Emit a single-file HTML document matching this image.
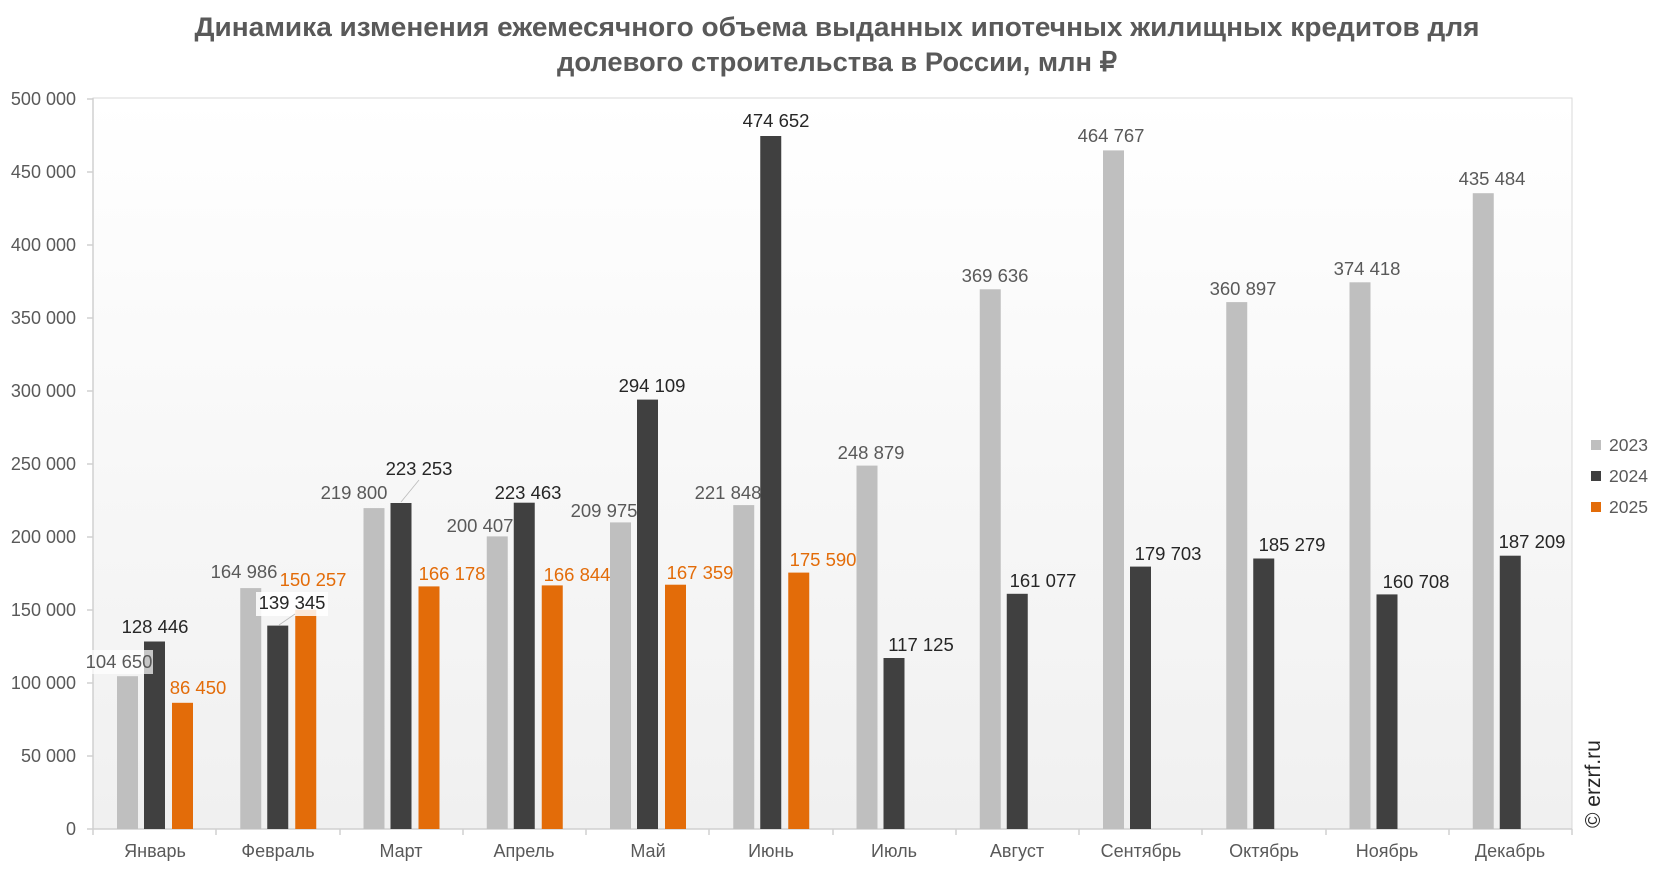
<!DOCTYPE html>
<html><head><meta charset="utf-8"><style>
html,body{margin:0;padding:0;background:#fff;}
svg{display:block;font-family:"Liberation Sans",sans-serif;}
</style></head><body>
<svg width="1666" height="872" viewBox="0 0 1666 872" xmlns="http://www.w3.org/2000/svg">
<defs><linearGradient id="bg" x1="0" y1="0" x2="0" y2="1"><stop offset="0" stop-color="#ffffff"/><stop offset="1" stop-color="#f0f0f0"/></linearGradient></defs>
<text x="837" y="36" font-size="27" font-weight="bold" fill="#595959" text-anchor="middle" textLength="1285" lengthAdjust="spacingAndGlyphs">Динамика изменения ежемесячного объема выданных ипотечных жилищных кредитов для</text>
<text x="837" y="71" font-size="27" font-weight="bold" fill="#595959" text-anchor="middle" textLength="560" lengthAdjust="spacingAndGlyphs">долевого строительства в России, млн ₽</text>
<rect x="93" y="98" width="1479" height="731" fill="url(#bg)" stroke="#d9d9d9" stroke-width="1"/>
<g stroke="#d0d0d0" stroke-width="1.5">
<line x1="93" y1="98" x2="93" y2="829"/>
<line x1="93" y1="829" x2="1572" y2="829"/>
<line x1="87" y1="829" x2="93" y2="829"/><line x1="87" y1="756" x2="93" y2="756"/><line x1="87" y1="683" x2="93" y2="683"/><line x1="87" y1="610" x2="93" y2="610"/><line x1="87" y1="537" x2="93" y2="537"/><line x1="87" y1="464" x2="93" y2="464"/><line x1="87" y1="391" x2="93" y2="391"/><line x1="87" y1="318" x2="93" y2="318"/><line x1="87" y1="245" x2="93" y2="245"/><line x1="87" y1="172" x2="93" y2="172"/><line x1="87" y1="99" x2="93" y2="99"/>
<line x1="93" y1="829" x2="93" y2="835"/><line x1="216" y1="829" x2="216" y2="835"/><line x1="340" y1="829" x2="340" y2="835"/><line x1="463" y1="829" x2="463" y2="835"/><line x1="586" y1="829" x2="586" y2="835"/><line x1="709" y1="829" x2="709" y2="835"/><line x1="833" y1="829" x2="833" y2="835"/><line x1="956" y1="829" x2="956" y2="835"/><line x1="1079" y1="829" x2="1079" y2="835"/><line x1="1202" y1="829" x2="1202" y2="835"/><line x1="1326" y1="829" x2="1326" y2="835"/><line x1="1449" y1="829" x2="1449" y2="835"/><line x1="1572" y1="829" x2="1572" y2="835"/>
</g>
<g font-size="18" fill="#595959" text-anchor="end">
<text x="76" y="835">0</text><text x="76" y="762">50 000</text><text x="76" y="689">100 000</text><text x="76" y="616">150 000</text><text x="76" y="543">200 000</text><text x="76" y="470">250 000</text><text x="76" y="397">300 000</text><text x="76" y="324">350 000</text><text x="76" y="251">400 000</text><text x="76" y="178">450 000</text><text x="76" y="105">500 000</text>
</g>
<g font-size="18" fill="#595959" text-anchor="middle">
<text x="155" y="857">Январь</text><text x="278" y="857">Февраль</text><text x="401" y="857">Март</text><text x="524" y="857">Апрель</text><text x="648" y="857">Май</text><text x="771" y="857">Июнь</text><text x="894" y="857">Июль</text><text x="1017" y="857">Август</text><text x="1141" y="857">Сентябрь</text><text x="1264" y="857">Октябрь</text><text x="1387" y="857">Ноябрь</text><text x="1510" y="857">Декабрь</text>
</g>
<g fill="#bfbfbf">
<rect x="117" y="676.2" width="21" height="152.8"/><rect x="240.25" y="588.1" width="21" height="240.9"/><rect x="363.5" y="508.1" width="21" height="320.9"/><rect x="486.75" y="536.4" width="21" height="292.6"/><rect x="610" y="522.4" width="21" height="306.6"/><rect x="733.25" y="505.1" width="21" height="323.9"/><rect x="856.5" y="465.6" width="21" height="363.4"/><rect x="979.75" y="289.3" width="21" height="539.7"/><rect x="1103" y="150.4" width="21" height="678.6"/><rect x="1226.25" y="302.1" width="21" height="526.9"/><rect x="1349.5" y="282.3" width="21" height="546.7"/><rect x="1472.75" y="193.2" width="21" height="635.8"/>
</g>
<g fill="#404040">
<rect x="144" y="641.5" width="21" height="187.5"/><rect x="267.25" y="625.6" width="21" height="203.4"/><rect x="390.5" y="503" width="21" height="326"/><rect x="513.75" y="502.7" width="21" height="326.3"/><rect x="637" y="399.6" width="21" height="429.4"/><rect x="760.25" y="136" width="21" height="693"/><rect x="883.5" y="658" width="21" height="171"/><rect x="1006.75" y="593.8" width="21" height="235.2"/><rect x="1130" y="566.6" width="21" height="262.4"/><rect x="1253.25" y="558.5" width="21" height="270.5"/><rect x="1376.5" y="594.4" width="21" height="234.6"/><rect x="1499.75" y="555.7" width="21" height="273.3"/>
</g>
<g fill="#e36c09">
<rect x="172" y="702.8" width="21" height="126.2"/><rect x="295.25" y="609.6" width="21" height="219.4"/><rect x="418.5" y="586.4" width="21" height="242.6"/><rect x="541.75" y="585.4" width="21" height="243.6"/><rect x="665" y="584.7" width="21" height="244.3"/><rect x="788.25" y="572.6" width="21" height="256.4"/>
</g>
<rect x="85" y="650" width="68" height="24" fill="#fff" opacity="0.7"/>
<rect x="256" y="592" width="72" height="24" fill="#fff" opacity="0.85"/>
<g stroke="#bbb" stroke-width="0.8"><line x1="401" y1="502" x2="419" y2="480"/><line x1="279" y1="625" x2="295" y2="614"/></g>
<g font-size="18.5" text-anchor="middle" fill="#595959">
<text x="119" y="668">104 650</text><text x="244" y="578">164 986</text><text x="354" y="499">219 800</text><text x="480" y="532">200 407</text><text x="604" y="517">209 975</text><text x="728" y="499">221 848</text><text x="871" y="459">248 879</text><text x="995" y="282">369 636</text><text x="1111" y="142">464 767</text><text x="1243" y="295">360 897</text><text x="1367" y="275">374 418</text><text x="1492" y="185">435 484</text>
</g>
<g font-size="18.5" text-anchor="middle" fill="#262626">
<text x="155" y="633">128 446</text><text x="292" y="609">139 345</text><text x="419" y="475">223 253</text><text x="528" y="499">223 463</text><text x="652" y="392">294 109</text><text x="776" y="127">474 652</text><text x="921" y="651">117 125</text><text x="1043" y="587">161 077</text><text x="1168" y="560">179 703</text><text x="1292" y="551">185 279</text><text x="1416" y="588">160 708</text><text x="1532" y="548">187 209</text>
</g>
<g font-size="18.5" text-anchor="middle" fill="#e36c09">
<text x="198" y="694">86 450</text><text x="313" y="586">150 257</text><text x="452" y="580">166 178</text><text x="577" y="581">166 844</text><text x="700" y="579">167 359</text><text x="823" y="566">175 590</text>
</g>
<rect x="1591" y="440" width="10" height="10" fill="#bfbfbf"/>
<rect x="1591" y="471" width="10" height="10" fill="#404040"/>
<rect x="1591" y="502" width="10" height="10" fill="#e36c09"/>
<g font-size="17.5" fill="#595959">
<text x="1609" y="451">2023</text><text x="1609" y="482">2024</text><text x="1609" y="513">2025</text>
</g>
<text transform="translate(1600,828) rotate(-90)" font-size="21" fill="#262626">© erzrf.ru</text>
</svg>
</body></html>
